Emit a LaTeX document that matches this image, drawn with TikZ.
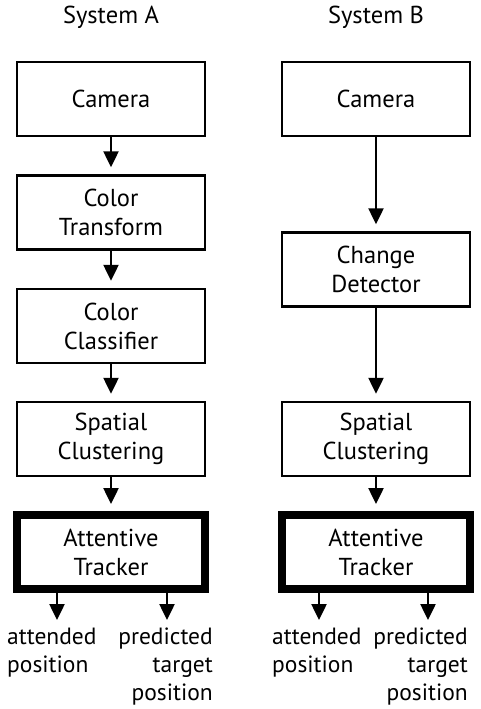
\documentclass[tikz,border=0pt]{standalone}
\usepackage{fontspec}
\setmainfont{PT Sans}
\usetikzlibrary{arrows.meta}

\begin{document}
\begin{tikzpicture}[x=1pt,y=-1pt,
	every node/.style={font=\fontsize{24.5}{29}\selectfont, inner sep=0pt},
	stage/.style={draw, line width=2.5pt, minimum width=188pt, minimum height=74pt, align=center},
	tracker/.style={stage, line width=8pt},
	outlabel/.style={font=\fontsize{23.5}{28}\selectfont},
	flow/.style={line width=2.5pt, -{Triangle[length=16pt,width=15pt]}, shorten >=7pt},
	result/.style={line width=2.5pt, -{Triangle[length=16pt,width=15pt]}}]
	\useasboundingbox (0,0) rectangle (481,709);

	% column titles
	\node[anchor=base](titleA) at (111,24) {System A};
	\node[anchor=base](titleB) at (376,24) {System B};

	% system A
	\node[stage](camA) at (111,99) {Camera};
	\node[stage](ctA) at (111,212.5) {Color\\Transform};
	\node[stage](ccA) at (111,326) {Color\\Classifier};
	\node[stage](scA) at (111,439) {Spatial\\Clustering};
	\node[tracker](trA) at (111,552) {Attentive\\Tracker};

	% system B
	\node[stage](camB) at (376,99) {Camera};
	\node[stage](cdB) at (376,269.5) {Change\\Detector};
	\node[stage](scB) at (376,439) {Spatial\\Clustering};
	\node[tracker](trB) at (376,552) {Attentive\\Tracker};

	\draw[flow] (camA) -- (ctA);
	\draw[flow] (ctA) -- (ccA);
	\draw[flow] (ccA) -- (scA);
	\draw[flow] (scA) -- (trA);
	\draw[flow] (camB) -- (cdB);
	\draw[flow] (cdB) -- (scB);
	\draw[flow] (scB) -- (trB);

	% outputs
	\coordinate(attA) at (57,620);
	\coordinate(preA) at (167,620);
	\coordinate(attB) at (319,620);
	\coordinate(preB) at (428,620);
	\draw[result] (trA.south -| attA) -- (attA);
	\draw[result] (trA.south -| preA) -- (preA);
	\draw[result] (trB.south -| attB) -- (attB);
	\draw[result] (trB.south -| preB) -- (preB);

	\node[outlabel, anchor=north west, align=left](attAtxt) at (7,627.5) {attended\\position};
	\node[outlabel, anchor=north east, align=right](preAtxt) at (213,627.5) {predicted\\target\\position};
	\node[outlabel, anchor=north west, align=left](attBtxt) at (272,627.5) {attended\\position};
	\node[outlabel, anchor=north east, align=right](preBtxt) at (468,627.5) {predicted\\target\\position};
\end{tikzpicture}
\end{document}
